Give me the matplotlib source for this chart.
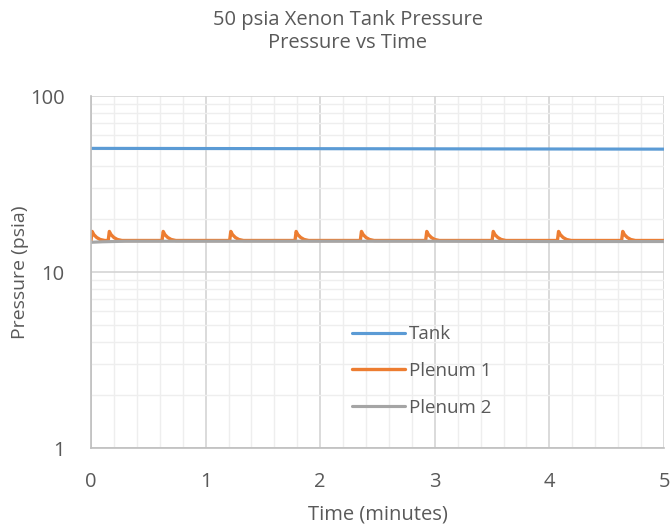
import numpy as np
import matplotlib.pyplot as plt
from matplotlib.ticker import FixedLocator, LogLocator, NullFormatter

plt.rcParams['font.family'] = ['Open Sans', 'DejaVu Sans']

# tank trace (minutes, psia)
tank_t = [0.0, 1.0, 2.0, 3.0, 4.0, 5.0]
tank_p = [50.4, 50.3, 50.2, 50.1, 50.0, 49.9]

# plenum 1: valve pulses, each with the same read-off shape
pulse_times = [0.0, 0.15, 0.62, 1.21, 1.78, 2.35, 2.92, 3.50, 4.07, 4.63]
pulse_dt = [0.0, 0.01, 0.025, 0.05, 0.08, 0.12]
pulse_p = [15.1, 17.0, 16.3, 15.7, 15.3, 15.1]
plenum_base = 15.1

# plenum 2
plenum2_t = [0.0, 0.1, 0.3, 1.0, 2.0, 3.0, 4.0, 5.0]
plenum2_p = [14.75, 14.85, 14.95, 14.95, 14.95, 14.95, 14.9, 14.9]

p1_t, p1_p = [], []
for t0 in pulse_times:
    for dt, p in zip(pulse_dt, pulse_p):
        p1_t.append(t0 + dt)
        p1_p.append(p)
p1_t.append(5.0)
p1_p.append(plenum_base)

txt = '#595959'
fig = plt.figure(figsize=(6.7, 5.29), dpi=100)
ax = fig.add_axes([91 / 670, 81 / 529, 573 / 670, 352 / 529])

ax.plot(tank_t, tank_p, color='#5b9bd5', lw=2.25, label='Tank', solid_capstyle='round')
ax.plot(p1_t, p1_p, color='#ed7d31', lw=2.4, label='Plenum 1', solid_capstyle='round')
ax.plot(plenum2_t, plenum2_p, color='#a5a5a5', lw=2.25, label='Plenum 2', solid_capstyle='round')

ax.set_yscale('log')
ax.set_xlim(0, 5)
ax.set_ylim(1, 100)
ax.xaxis.set_major_locator(FixedLocator([0, 1, 2, 3, 4, 5]))
ax.xaxis.set_minor_locator(FixedLocator(np.arange(0, 5.01, 0.2)))
ax.yaxis.set_major_locator(FixedLocator([1, 10, 100]))
ax.yaxis.set_minor_locator(LogLocator(base=10, subs=np.arange(2, 10)))
ax.yaxis.set_minor_formatter(NullFormatter())
ax.set_yticklabels(['1', '10', '100'])

ax.grid(which='major', color='#d4d4d4', lw=1.2)
ax.grid(which='minor', color='#eeeeee', lw=1.0)
ax.set_axisbelow(True)
ax.tick_params(which='both', length=0, labelsize=14.5, colors=txt)
ax.tick_params(axis='x', pad=17)
ax.tick_params(axis='y', pad=19)
for s in ['top', 'right']:
    ax.spines[s].set_visible(False)
for s in ['left', 'bottom']:
    ax.spines[s].set_color('#bfbfbf')
    ax.spines[s].set_linewidth(1.2)

ax.set_xlabel('Time (minutes)', fontsize=14.5, color=txt, labelpad=9)
ax.set_ylabel('Pressure (psia)', fontsize=14, color=txt, labelpad=1)

fig.text(348 / 670, 1 - 20 / 529, '50 psia Xenon Tank Pressure', ha='center', va='center',
         fontsize=14.5, color=txt)
fig.text(348 / 670, 1 - 43 / 529, 'Pressure vs Time', ha='center', va='center',
         fontsize=14.5, color=txt)

leg = ax.legend(loc='upper left', bbox_to_anchor=(248 / 573, (448 - 312) / 352),
                frameon=False, fontsize=13.5, labelcolor=txt, handlelength=2.8,
                handletextpad=0.25, labelspacing=1.0, borderpad=0.2)

fig.savefig('out.png', dpi=100)
